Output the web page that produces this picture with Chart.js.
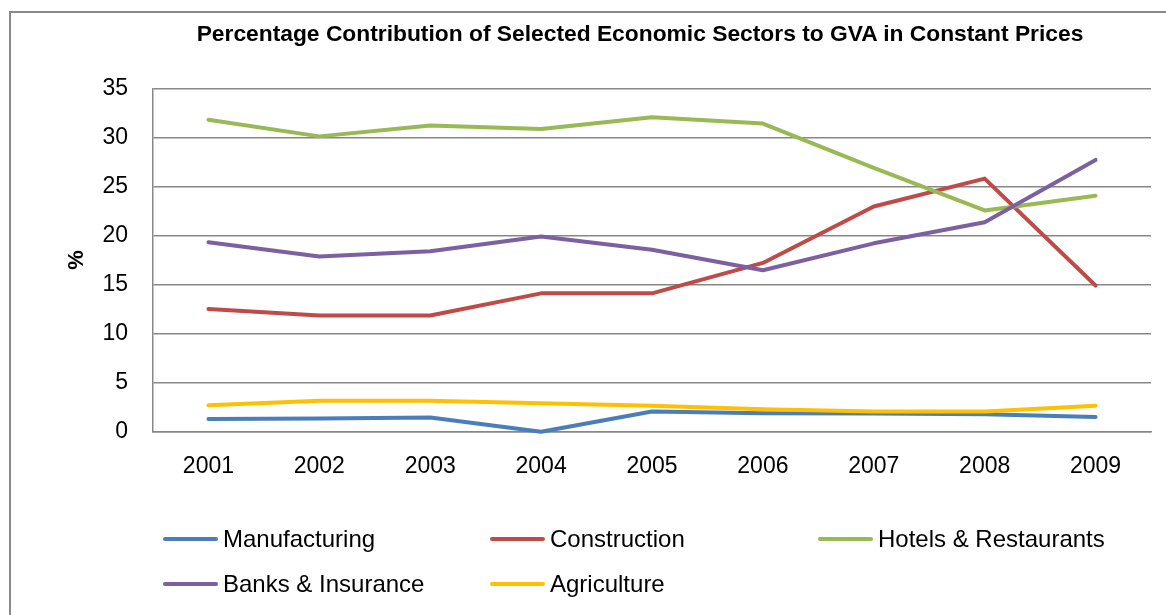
<!DOCTYPE html>
<html>
<head>
<meta charset="utf-8">
<script src="https://cdn.jsdelivr.net/npm/chart.js@4.4.0/dist/chart.umd.min.js"></script>
<style>
  html, body { margin: 0; padding: 0; background: #fff; overflow: hidden; width: 1166px; height: 615px; }
  #frame { position: absolute; left: 9px; top: 11px; width: 1262px; height: 700px; border: 2px solid #898989; box-sizing: border-box; }
  #c { position: absolute; left: 0; top: 0; }
  #title { position: absolute; left: 0; top: 20px; width: 1280px; text-align: center;
           font: bold 22.8px 'Liberation Sans', Arial, sans-serif; line-height: 27px; color: #000; white-space: nowrap; }
  #legend { position: absolute; left: 163px; top: 516px; display: grid;
            grid-template-columns: 327px 328px 330px; grid-auto-rows: 45px;
            font: 24px 'Liberation Sans', Arial, sans-serif; color: #000; }
  .item { display: flex; align-items: center; white-space: nowrap; }
  .swatch { width: 55px; height: 4px; border-radius: 2px; margin-right: 5px; }
</style>
</head>
<body>
<div id="frame"></div>
<canvas id="c" width="1280" height="615"></canvas>
<div id="title">Percentage Contribution of Selected Economic Sectors to GVA in Constant Prices</div>
<div id="legend"></div>
<script>
// Years on the category axis
const years = ['2001', '2002', '2003', '2004', '2005', '2006', '2007', '2008', '2009'];

// Share of GVA (%) by sector, constant prices
const manufacturing = [1.3, 1.35, 1.45, 0.0, 2.05, 1.87, 1.85, 1.78, 1.5];
const construction  = [12.5, 11.85, 11.85, 14.1, 14.1, 17.2, 22.95, 25.8, 14.9];
const hotels        = [31.8, 30.1, 31.2, 30.85, 32.05, 31.4, 26.9, 22.55, 24.05];
const banks         = [19.3, 17.85, 18.4, 19.9, 18.55, 16.45, 19.2, 21.35, 27.7];
const agriculture   = [2.7, 3.15, 3.15, 2.9, 2.65, 2.3, 2.05, 2.05, 2.65];

// Value axis ticks
const yTicks = [0, 5, 10, 15, 20, 25, 30, 35];

const FONT = "'Liberation Sans', Arial, sans-serif";
const GRID = '#878787';

function series(label, data, color, order) {
  return {
    label, data, order,
    borderColor: color, backgroundColor: color,
    borderWidth: 4, borderCapStyle: 'round', borderJoinStyle: 'round',
    pointRadius: 0, pointHoverRadius: 0, tension: 0, fill: false, clip: false
  };
}

const datasets = [
  series('Manufacturing', manufacturing, '#4A7EBB', 5),
  series('Construction', construction, '#BE4B48', 4),
  series('Hotels & Restaurants', hotels, '#98B954', 3),
  series('Banks & Insurance', banks, '#7D60A0', 2),
  series('Agriculture', agriculture, '#FFC000', 1)
];

const chart = new Chart(document.getElementById('c'), {
  type: 'line',
  data: { labels: years, datasets },
  options: {
    responsive: false,
    animation: false,
    devicePixelRatio: 1,
    layout: { padding: { left: 60, right: 129, top: 88.3, bottom: 123.3 } },
    plugins: {
      legend: { display: false },
      tooltip: { enabled: false },
      title: { display: false }
    },
    scales: {
      x: {
        offset: true,
        grid: { display: false, drawTicks: false },
        border: { display: true, color: GRID, width: 1.5 },
        ticks: { color: '#000', padding: 21, font: { family: FONT, size: 23 } },
        afterFit: (s) => { s.height = 60; }
      },
      y: {
        min: yTicks[0],
        max: yTicks[yTicks.length - 1],
        afterBuildTicks: (s) => { s.ticks = yTicks.map(v => ({ value: v })); },
        grid: { color: GRID, lineWidth: 1.5, drawTicks: false },
        border: { display: true, color: GRID, width: 1.5 },
        ticks: { color: '#000', padding: 25, font: { family: FONT, size: 23 } },
        title: {
          display: true, text: '%', color: '#000',
          font: { family: FONT, size: 22, weight: 'bold' },
          padding: { top: 4, bottom: 4 }
        },
        afterFit: (s) => { s.width = 93; }
      }
    }
  }
});

// Legend built from the chart's datasets, laid out in three columns
const legend = document.getElementById('legend');
chart.data.datasets.forEach(ds => {
  const item = document.createElement('div');
  item.className = 'item';
  const sw = document.createElement('span');
  sw.className = 'swatch';
  sw.style.background = ds.borderColor;
  const txt = document.createElement('span');
  txt.textContent = ds.label;
  item.appendChild(sw);
  item.appendChild(txt);
  legend.appendChild(item);
});
</script>
</body>
</html>
